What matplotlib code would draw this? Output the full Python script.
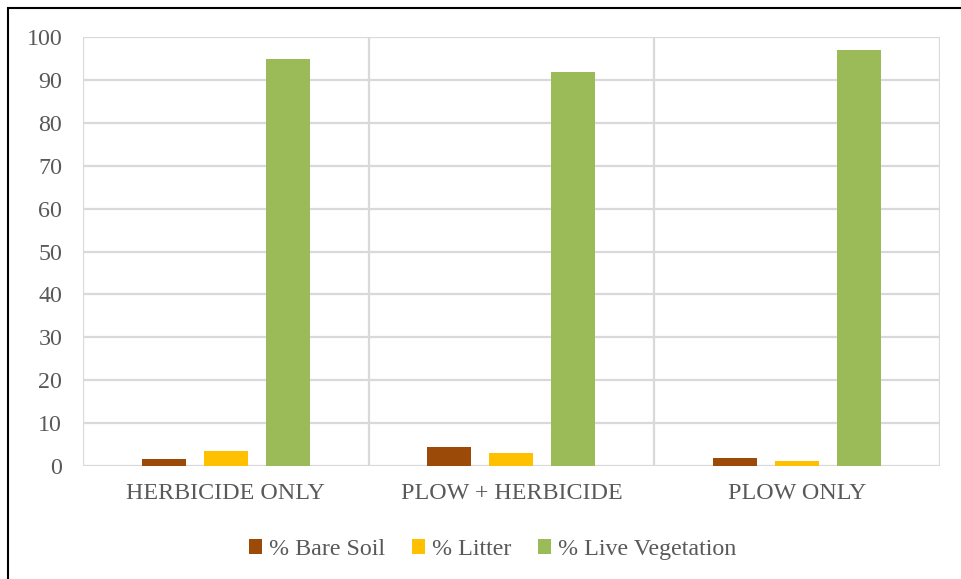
import matplotlib.pyplot as plt
from matplotlib.patches import Rectangle
import numpy as np

plt.rcParams['font.family'] = ['Liberation Serif', 'DejaVu Serif']

treatments = ["HERBICIDE ONLY", "PLOW + HERBICIDE", "PLOW ONLY"]
bare_soil = [1.6, 4.4, 1.8]
litter = [3.6, 3.0, 1.1]
live_veg = [95.0, 91.8, 97.0]

series = [
    ("% Bare Soil", bare_soil, "#9c4a08"),
    ("% Litter", litter, "#ffc000"),
    ("% Live Vegetation", live_veg, "#9bbb59"),
]

text_color = "#595959"
grid_color = "#d9d9d9"

fig = plt.figure(figsize=(9.61, 5.79), dpi=100)
ax = fig.add_axes([0.0864, 0.195, 0.8916, 0.741])

x = np.arange(len(treatments))
width = 0.154
step = 0.217
for i, (name, vals, color) in enumerate(series):
    ax.bar(x + (i - 1) * step, vals, width, color=color, label=name, zorder=3)

ax.set_xlim(-0.5, len(treatments) - 0.5)
ax.set_ylim(0, 100)
ax.set_yticks(range(0, 101, 10))
ax.set_xticks(x)
ax.set_xticklabels(treatments)

# horizontal gridlines and category separators
ax.grid(axis='y', color=grid_color, linewidth=1.6, zorder=0)
for b in np.arange(len(treatments) + 1) - 0.5:
    ax.axvline(b, color=grid_color, linewidth=1.6, zorder=1)

for s in ax.spines.values():
    s.set_visible(False)
ax.tick_params(length=0, labelsize=17.3, colors=text_color)
ax.tick_params(axis='y', pad=15)
ax.tick_params(axis='x', pad=12)

leg = ax.legend(loc='upper center', bbox_to_anchor=(0.478, -0.12), ncol=3,
                frameon=False, fontsize=17.3, handlelength=0.55, handleheight=0.55,
                handletextpad=0.3, columnspacing=1.1)
for t in leg.get_texts():
    t.set_color(text_color)

# outer frame around the chart
fig.patches.append(Rectangle((8 / 961, -0.1), 1.1, (579 - 7.5) / 579 + 0.1,
                             transform=fig.transFigure, fill=False,
                             edgecolor='black', linewidth=1.5))

fig.savefig("out.png", dpi=100)
